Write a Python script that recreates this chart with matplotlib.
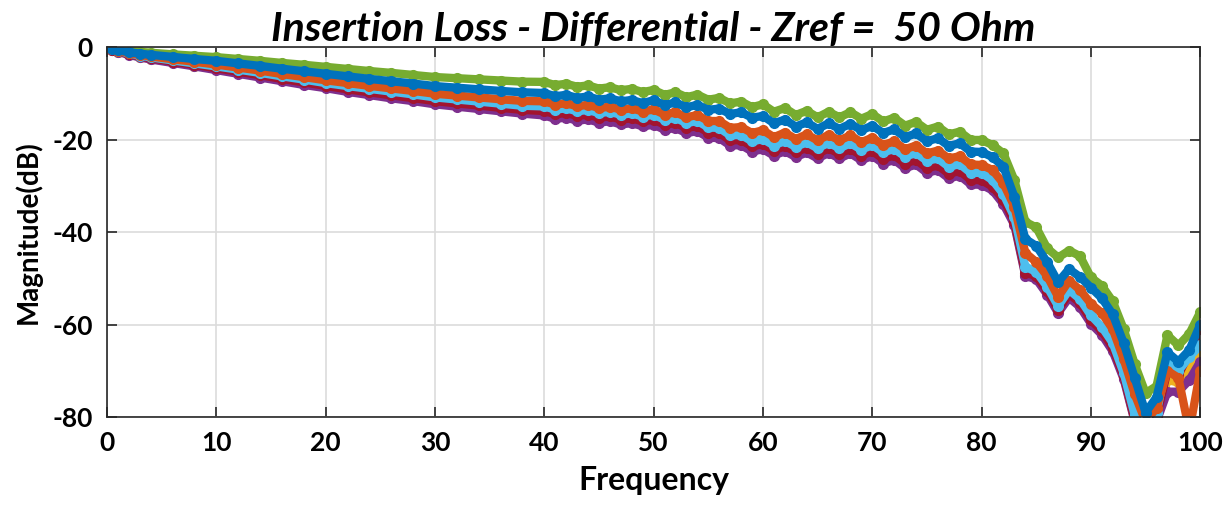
import matplotlib
matplotlib.use("Agg")
import matplotlib.pyplot as plt

plt.rcParams['font.family'] = ['Lato', 'DejaVu Sans']
plt.rcParams['axes.unicode_minus'] = False

# frequency grid (coarse where the curves are smooth, 1 unit above 40)
freq = [0, 0.5, 1, 2, 3, 4] + list(range(6, 40, 2)) + list(range(40, 101))

green = [0, -0.3, -0.5, -0.8, -1.05, -1.25,
         -1.6, -1.9, -2.2, -2.6, -3.0, -3.45, -3.85, -4.3, -4.75, -5.2, -5.6, -6.05, -6.5, -6.75, -7.0, -7.25, -7.5,
         -7.55, -8.25, -7.95, -8.6, -8.3, -9.0, -8.7, -9.35, -9.05, -9.75,
         -9.3, -10.35, -9.8, -10.85, -10.3, -11.4, -11.0, -12.2, -11.8, -13.0,
         -12.4, -14.0, -13.2, -14.7, -13.8, -15.2, -14.0, -15.2, -14.1, -15.5,
         -14.5, -16.1, -15.3, -17.0, -16.2, -17.9, -17.2, -18.9, -18.3, -20.1,
         -20.1, -21.2, -23.0, -28.8, -37.8, -39.0, -43.5, -45.5, -44.0, -45.2,
         -49.8, -51.6, -55.0, -61.0, -68.5, -74.8, -73.3, -62.3, -64.5, -62.0, -57.3]

blue = [0, -0.4, -0.7, -1.1, -1.45, -1.7,
        -2.15, -2.6, -3.0, -3.55, -4.1, -4.7, -5.25, -5.8, -6.35, -6.9, -7.4, -7.9, -8.45, -8.8, -9.15, -9.5, -9.8,
        -9.95, -10.65, -10.35, -11.0, -10.7, -11.4, -11.1, -11.75, -11.45, -12.15,
        -11.5, -12.55, -12.0, -13.05, -12.5, -13.6, -13.3, -14.5, -14.1, -15.3,
        -14.9, -16.5, -15.7, -17.2, -16.3, -17.7, -16.5, -17.7, -16.6, -18.0,
        -17.0, -18.6, -17.8, -19.5, -18.7, -20.4, -19.7, -21.4, -20.8, -22.6,
        -22.7, -23.8, -25.9, -32.4, -41.5, -43.0, -46.5, -50.8, -48.0, -49.7,
        -52.0, -54.3, -57.8, -64.0, -71.5, -79.0, -75.7, -66.0, -68.0, -65.5, -60.0]

orange = [0, -0.45, -0.8, -1.3, -1.7, -2.05,
          -2.65, -3.2, -3.8, -4.45, -5.1, -5.85, -6.5, -7.2, -7.8, -8.4, -8.95, -9.5, -10.1, -10.5, -10.9, -11.3, -11.65,
          -11.75, -12.45, -12.15, -12.8, -12.5, -13.2, -12.9, -13.55, -13.25, -13.95,
          -13.5, -14.6, -14.1, -15.2, -14.7, -16.0, -16.0, -17.5, -17.3, -18.6,
          -18.0, -19.5, -18.5, -19.9, -18.9, -20.2, -19.0, -20.2, -19.1, -20.6,
          -19.6, -21.2, -20.4, -22.1, -21.3, -23.0, -22.4, -24.1, -23.6, -25.4,
          -25.5, -26.6, -29.5, -34.5, -44.5, -46.5, -49.5, -54.0, -50.5, -52.5,
          -55.5, -57.5, -61.0, -67.5, -75.0, -81.0, -78.0, -70.0, -71.5, -83.0, -70.0]

light_blue = [0, -0.5, -0.85, -1.4, -1.85, -2.25,
              -2.9, -3.55, -4.2, -4.9, -5.6, -6.35, -7.05, -7.8, -8.45, -9.05, -9.65, -10.25, -10.9, -11.35, -11.8, -12.25, -12.7,
              -12.85, -13.55, -13.25, -13.9, -13.6, -14.3, -14.0, -14.65, -14.35, -15.05,
              -14.6, -15.75, -15.3, -16.45, -16.0, -17.4, -17.5, -19.1, -19.0, -20.4,
              -19.9, -21.3, -20.3, -21.6, -20.6, -21.9, -20.7, -21.9, -20.8, -22.2,
              -21.2, -22.8, -22.0, -23.7, -22.9, -24.6, -24.1, -25.9, -25.3, -27.2,
              -27.2, -28.8, -31.8, -36.8, -47.5, -48.6, -51.8, -56.0, -52.5, -54.5,
              -58.0, -60.5, -64.0, -70.5, -79.5, -83.0, -79.0, -68.0, -70.0, -67.0, -64.5]

dark_red = [0, -0.55, -0.95, -1.55, -2.05, -2.45,
            -3.15, -3.85, -4.6, -5.35, -6.1, -6.9, -7.65, -8.4, -9.15, -9.8, -10.45, -11.05, -11.7, -12.2, -12.65, -13.15, -13.6,
            -13.85, -14.55, -14.25, -14.9, -14.6, -15.3, -15.0, -15.7, -15.4, -16.1,
            -15.7, -16.8, -16.4, -17.5, -17.1, -18.5, -18.6, -20.2, -20.1, -21.5,
            -21.0, -22.4, -21.4, -22.7, -21.8, -23.1, -21.9, -23.1, -22.0, -23.5,
            -22.5, -24.2, -23.4, -25.2, -24.4, -26.2, -25.6, -27.4, -26.8, -28.7,
            -28.8, -30.2, -33.0, -37.8, -48.8, -49.5, -52.7, -56.8, -53.4, -55.3,
            -59.0, -61.4, -65.0, -71.2, -80.5, -83.5, -80.0, -70.0, -71.0, -66.0, -61.0]

purple = [0, -0.6, -1.05, -1.7, -2.25, -2.7,
          -3.45, -4.2, -5.0, -5.8, -6.6, -7.4, -8.2, -8.9, -9.7, -10.4, -11.1, -11.7, -12.4, -12.9, -13.4, -13.9, -14.4,
          -14.8, -15.55, -15.25, -15.95, -15.65, -16.35, -16.05, -16.75, -16.45, -17.15,
          -16.8, -17.9, -17.5, -18.6, -18.2, -19.6, -19.7, -21.3, -21.2, -22.6,
          -22.1, -23.5, -22.5, -23.8, -22.8, -24.1, -22.9, -24.1, -23.0, -24.5,
          -23.5, -25.2, -24.4, -26.2, -25.4, -27.2, -26.6, -28.4, -27.8, -29.7,
          -29.8, -31.0, -34.0, -38.5, -49.5, -50.2, -53.5, -57.5, -54.2, -56.2,
          -59.8, -62.2, -65.8, -71.8, -81.0, -84.0, -81.0, -74.5, -74.5, -72.0, -68.0]

yellow = [0, -0.58, -1.0, -1.62, -2.15, -2.58,
          -3.3, -4.02, -4.8, -5.58, -6.35, -7.15, -7.92, -8.65, -9.42, -10.1, -10.78, -11.4, -12.05, -12.55, -13.05, -13.5, -14.0,
          -14.35, -15.05, -14.75, -15.45, -15.15, -15.85, -15.55, -16.25, -15.95, -16.65,
          -16.3, -17.4, -17.0, -18.1, -17.7, -19.1, -19.2, -20.8, -20.7, -22.1,
          -21.6, -23.0, -22.0, -23.3, -22.3, -23.6, -22.4, -23.6, -22.5, -24.0,
          -23.0, -24.7, -23.9, -25.7, -24.9, -26.7, -26.1, -27.9, -27.3, -29.2,
          -29.3, -30.6, -33.5, -38.2, -49.2, -49.9, -53.1, -57.2, -53.8, -55.8,
          -59.4, -61.8, -65.4, -71.5, -80.8, -83.8, -80.5, -72.0, -72.5, -69.0, -66.5]

# drawing order: lowest curves first, blue last on top (as in the reference)
series = [
    (yellow, '#EDB120'),
    (purple, '#7E2F8E'),
    (dark_red, '#A2142F'),
    (light_blue, '#4DBEEE'),
    (orange, '#D95319'),
    (green, '#77AC30'),
    (blue, '#0072BD'),
]

fig = plt.figure(figsize=(12.27, 5.05), dpi=100)
ax = fig.add_axes([0.0872, 0.174, 0.891, 0.733])

for vals, col in series:
    ax.plot(freq, vals, color=col, lw=6, marker='o', ms=7, mec=col,
            solid_joinstyle='round', solid_capstyle='round')

ax.set_xlim(0, 100)
ax.set_ylim(-80, 0)
ax.set_xticks(range(0, 101, 10))
ax.set_yticks(range(-80, 1, 20))
ax.grid(True, color='#dcdcdc', lw=1.2)
ax.set_axisbelow(True)

ax.tick_params(direction='in', length=7, width=1.2, top=True, right=True,
               labelsize=19, color='#262626', pad=10)
for lab in ax.get_xticklabels() + ax.get_yticklabels():
    lab.set_fontweight('bold')
for sp in ax.spines.values():
    sp.set_color('#262626')
    sp.set_linewidth(1.2)

ax.set_xlabel('Frequency', fontsize=23, fontweight='bold', labelpad=8)
ax.set_ylabel('Magnitude(dB)', fontsize=20, fontweight='bold', labelpad=8)
ax.set_title('Insertion Loss - Differential - Zref =  50 Ohm', fontsize=29.5,
             fontweight='bold', fontstyle='italic', pad=4)

fig.savefig('out.png', dpi=100)
